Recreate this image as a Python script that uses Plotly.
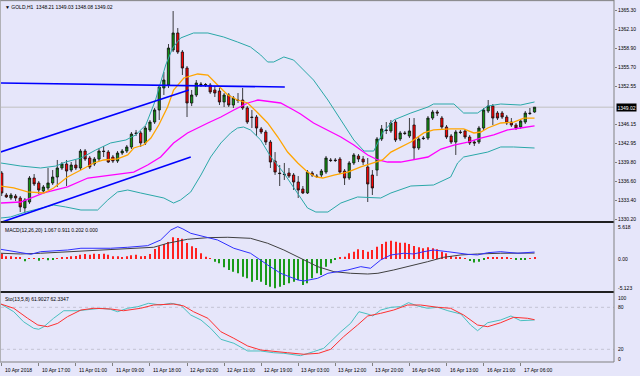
import plotly.graph_objects as go

# ---------------- data ----------------
bars = list(range(116))
opens = [1337.99,1334.30,1333.80,1334.13,1333.80,1332.13,1333.13,1337.15,1336.32,1334.97,
         1335.48,1336.32,1337.32,1338.83,1339.50,1338.49,1339.33,1338.83,1341.67,1340.50,
         1339.50,1340.33,1341.67,1341.50,1340.67,1340.00,1341.34,1341.67,1342.35,1344.70,
         1344.70,1343.02,1345.20,1346.53,1348.55,1352.24,1352.74,1358.60,1361.45,1358.26,
         1355.58,1349.72,1351.06,1352.90,1352.74,1352.74,1351.90,1351.73,1349.89,1351.06,
         1349.38,1350.22,1350.22,1348.88,1347.37,1347.37,1345.37,1344.86,1343.18,1340.00,
         1337.99,1337.82,1337.99,1337.65,1336.48,1335.31,1334.64,1337.99,1337.48,1337.65,
         1338.15,1340.17,1340.17,1340.33,1338.32,1337.15,1339.67,1340.84,1340.33,1339.00,
         1337.65,1338.49,1343.69,1345.20,1345.03,1346.53,1343.69,1344.70,1344.19,1346.03,
         1342.18,1343.85,1343.85,1347.20,1348.21,1347.20,1345.70,1344.19,1343.18,1344.86,
         1345.03,1344.02,1343.18,1343.18,1345.53,1348.38,1349.21,1348.04,1348.04,1347.37,
         1346.53,1346.03,1345.70,1346.53,1348.04,1348.21]
highs = [1338.32,1334.64,1334.64,1334.47,1334.13,1333.80,1337.48,1337.82,1336.65,1335.98,
         1338.83,1338.49,1340.17,1339.83,1340.17,1339.83,1340.17,1342.01,1342.01,1340.84,
         1340.67,1342.18,1342.51,1341.84,1341.01,1341.67,1342.01,1342.68,1344.86,1345.20,
         1345.03,1345.87,1346.87,1348.88,1352.74,1354.91,1359.60,1365.13,1362.28,1358.60,
         1355.92,1351.90,1353.57,1353.23,1353.07,1353.07,1352.57,1352.24,1351.39,1351.39,
         1350.89,1351.39,1352.24,1349.21,1348.55,1347.71,1345.70,1345.20,1343.52,1341.50,
         1339.33,1339.67,1338.83,1337.99,1337.48,1335.81,1338.49,1338.32,1337.82,1338.66,
         1340.84,1340.50,1340.50,1340.67,1338.66,1340.00,1341.34,1341.17,1340.84,1340.50,
         1338.49,1344.02,1346.03,1346.53,1346.87,1346.87,1345.03,1345.03,1347.20,1347.20,
         1344.02,1344.19,1347.54,1348.55,1348.55,1347.54,1346.03,1344.52,1345.20,1345.20,
         1345.37,1344.36,1343.52,1345.87,1348.88,1350.22,1349.55,1348.38,1348.38,1347.71,
         1347.20,1346.37,1347.04,1348.38,1348.88,1349.03]
lows = [1334.13,1333.80,1333.47,1333.30,1331.45,1331.29,1332.80,1335.81,1334.47,1334.64,
        1335.14,1335.98,1335.65,1338.49,1335.81,1338.15,1338.49,1338.49,1340.00,1338.66,
        1339.16,1340.00,1340.67,1339.67,1339.67,1339.67,1341.01,1341.34,1342.01,1344.19,
        1342.35,1342.68,1344.86,1346.20,1346.87,1351.06,1352.24,1358.26,1357.93,1354.41,
        1347.37,1349.21,1350.72,1352.40,1352.40,1351.23,1350.72,1349.38,1349.05,1349.05,
        1348.88,1349.72,1348.55,1346.20,1345.53,1344.19,1344.52,1342.68,1338.83,1337.66,
        1335.81,1336.82,1337.15,1335.14,1333.80,1334.47,1334.47,1337.32,1337.15,1337.32,
        1337.82,1339.83,1339.83,1337.82,1335.98,1336.82,1339.33,1339.83,1339.33,1333.13,
        1334.30,1337.48,1343.35,1344.52,1344.70,1343.18,1343.35,1344.36,1343.85,1340.17,
        1341.84,1343.52,1343.52,1346.87,1347.54,1345.37,1343.69,1342.85,1341.01,1344.52,
        1343.69,1342.68,1342.51,1342.85,1345.20,1348.04,1346.03,1346.87,1347.04,1346.03,
        1345.70,1345.20,1345.37,1346.20,1347.71,1348.08]
closes = [1334.64,1333.97,1334.30,1333.80,1332.30,1333.47,1337.15,1336.15,1335.14,1335.65,
          1336.32,1337.32,1338.83,1339.50,1338.32,1339.33,1338.83,1341.67,1340.33,1339.00,
          1340.33,1341.67,1341.59,1339.83,1340.00,1341.34,1341.67,1342.35,1344.52,1344.61,
          1343.02,1345.53,1346.53,1348.55,1352.40,1353.57,1358.93,1361.45,1358.26,1355.58,
          1349.72,1351.06,1353.07,1352.82,1352.82,1351.56,1351.39,1349.89,1351.06,1349.38,
          1350.56,1350.14,1348.88,1346.53,1347.29,1345.53,1344.86,1343.18,1339.83,1338.15,
          1337.90,1337.74,1337.48,1336.48,1335.14,1334.64,1338.15,1337.65,1337.40,1338.32,
          1340.50,1340.08,1340.08,1338.15,1337.15,1339.67,1341.01,1340.33,1339.83,1336.15,
          1335.48,1343.69,1345.37,1345.12,1346.37,1343.52,1344.70,1344.61,1345.03,1342.18,
          1343.69,1343.77,1347.20,1348.21,1348.04,1345.70,1344.02,1343.18,1344.86,1344.78,
          1344.02,1343.02,1343.02,1345.53,1348.55,1349.21,1347.20,1347.20,1347.37,1346.37,
          1346.03,1345.53,1346.70,1348.04,1347.96,1349.02]

bb_up_x = [-0.2,4.1,8.4,11.7,13.8,17.1,20.3,23.5,26.8,28.9,31.1,33.2,35.4,36.9,38.6,41.4,44.5,47.9,
           50.9,53.7,55.9,57.4,58.7,60.9,63.0,65.2,67.3,70.4,73.2,76.0,78.2,80.3,82.2,84.6,88.3,
           92.0,93.2,97.6,99.7,102.7,104.9,107.7,112.0,115.0]
bb_up_y = [1339.67,1339.16,1338.83,1339.16,1339.83,1340.50,1341.84,1343.02,1343.52,1344.36,1346.03,
           1350.22,1356.09,1358.93,1360.61,1361.45,1361.45,1360.78,1359.94,1359.10,1357.76,1356.59,
           1356.59,1357.43,1356.92,1355.25,1353.57,1350.22,1346.87,1343.52,1341.67,1341.67,1344.70,
           1346.87,1348.04,1349.05,1349.55,1349.55,1348.04,1348.04,1349.21,1349.55,1349.38,1349.89]
bb_lo_x = [-0.2,1.9,5.2,9.1,11.2,13.8,17.1,20.7,22.9,25.0,27.2,30.0,32.2,35.0,37.1,38.6,40.8,43.0,
           45.1,47.3,49.4,50.9,52.2,53.7,55.9,58.1,60.9,63.9,66.0,67.8,70.4,73.2,76.8,81.8,84.0,
           88.3,93.2,96.9,98.4,99.7,104.9,107.7,110.5,115.0]
bb_lo_y = [1330.45,1330.62,1331.45,1332.30,1332.63,1332.30,1331.79,1331.79,1333.47,1334.81,1335.14,
           1334.64,1334.30,1333.80,1332.96,1333.47,1334.81,1337.65,1340.67,1343.02,1344.70,1345.53,
           1345.70,1345.20,1343.52,1340.67,1337.99,1334.64,1332.13,1331.45,1331.45,1332.96,1333.97,
           1333.80,1334.64,1335.81,1335.98,1337.32,1339.67,1340.67,1341.50,1342.35,1342.35,1342.18]
ma_fast_x = [-0.2,2.6,5.6,9.1,11.2,14.2,17.1,19.9,22.0,25.0,27.2,28.5,30.6,32.2,33.9,35.8,37.1,39.3,
             42.3,44.5,46.6,48.8,50.9,53.1,55.3,57.4,59.6,61.7,63.9,66.0,67.8,69.3,71.7,74.7,77.5,
             80.3,82.2,84.0,86.1,88.3,91.1,93.2,96.9,99.7,101.9,103.4,104.9,107.7,110.5,112.7,115.0]
ma_fast_y = [1335.81,1335.48,1334.81,1334.64,1335.48,1337.32,1338.49,1339.67,1340.17,1340.34,1341.01,
             1342.18,1342.68,1343.85,1346.03,1349.05,1351.90,1353.91,1354.58,1354.41,1352.74,1351.06,
             1350.22,1349.72,1348.04,1346.37,1344.02,1341.50,1339.67,1338.15,1337.32,1337.15,1337.65,
             1338.15,1339.00,1339.67,1340.17,1341.50,1342.35,1343.18,1344.70,1345.20,1345.37,1345.37,
             1344.70,1344.86,1345.53,1346.37,1346.53,1347.20,1347.20]
ma_slow_x = [-0.2,4.1,9.1,14.2,18.6,24.2,28.5,31.5,34.3,37.1,40.1,44.5,47.3,50.1,53.1,55.3,57.4,60.2,
             63.0,64.5,67.3,70.4,73.2,76.0,79.0,81.2,83.3,86.1,88.9,92.0,94.8,97.6,100.6,103.4,106.2,
             109.2,112.0,115.0]
ma_slow_y = [1332.96,1333.13,1334.64,1335.65,1337.15,1337.65,1338.15,1339.33,1340.67,1343.02,1344.69,
             1346.37,1347.37,1348.55,1349.72,1350.22,1350.05,1349.72,1348.55,1347.88,1346.37,1345.20,
             1344.02,1342.68,1341.01,1340.17,1339.83,1339.83,1340.17,1340.67,1342.01,1342.68,1343.18,
             1343.85,1344.36,1345.20,1345.53,1345.87]

# hand-drawn trend lines: (bar, price) end points
trend_up_x, trend_up_y = [-0.2, 40.4], [1341.51, 1351.90]
trend_lo_x, trend_lo_y = [-0.2, 40.8], [1329.71, 1340.67]
trend_h_x, trend_h_y = [-0.2, 61.1], [1353.07, 1352.40]
last_price = 1349.02

macd_hist = [0.82,0.41,0.41,0.31,0.26,-0.36,0.15,0.10,-0.26,0.10,
             -0.21,-0.15,0.15,0.26,0.31,0.41,0.46,0.67,0.77,0.67,
             0.82,0.77,0.82,0.67,0.41,0.41,0.31,0.41,0.56,0.67,
             0.41,0.46,0.77,1.54,1.95,2.31,2.62,3.33,3.23,3.13,
             2.46,1.95,1.69,0.88,0.36,0.05,-0.41,-0.67,-1.28,-1.69,
             -1.95,-2.21,-2.72,-2.97,-3.49,-3.23,-3.49,-4.00,-4.26,-4.51,
             -4.26,-4.00,-3.74,-3.49,-3.23,-4.00,-3.74,-2.97,-2.21,-2.46,
             -1.18,-0.67,-0.15,0.21,0.36,0.87,1.13,1.49,1.38,1.13,
             1.38,1.90,2.31,2.67,2.82,2.67,2.51,2.51,2.31,2.00,
             1.79,1.64,1.79,1.64,1.49,1.13,0.87,0.46,0.36,0.21,
             0.10,-0.31,-0.56,-0.41,-0.15,0.21,0.21,0.21,0.21,0.26,
             0.05,-0.15,-0.10,-0.10,0.15,0.20]
macd_main_x = [-0.2,1.9,4.1,6.3,8.4,10.6,14.2,17.1,23.5,27.2,31.5,34.3,36.5,38.0,39.1,40.8,43.6,46.6,
               50.1,53.7,57.4,60.2,63.9,65.2,68.2,70.4,72.5,74.7,77.5,79.6,81.8,84.0,86.8,88.9,91.1,
               93.2,96.3,98.4,100.6,102.7,104.9,107.7,111.4,115.0]
macd_main_y = [1.49,1.23,0.92,0.72,1.12,1.23,1.38,1.65,1.65,1.80,2.05,2.92,4.46,4.97,4.62,3.95,3.43,2.92,
               1.65,0.88,-0.92,-2.20,-3.23,-3.38,-2.97,-2.20,-1.95,-1.69,-1.18,-1.43,-0.15,0.62,0.88,
               0.77,1.12,1.38,1.12,0.88,0.72,0.62,0.97,1.12,0.88,1.07]
macd_sig_x = [-0.2,4.1,8.4,14.2,18.6,22.9,28.5,32.8,35.8,40.1,44.5,48.8,53.7,57.4,60.9,64.5,68.2,71.7,
              75.3,79.0,81.2,84.6,88.3,91.9,95.4,99.1,102.7,107.7,115.0]
macd_sig_y = [0.88,0.77,0.88,1.12,1.23,1.38,1.65,1.80,2.42,3.03,3.28,3.34,3.18,2.42,1.38,0.11,-1.18,-1.95,
              -2.20,-2.31,-2.20,-1.69,-1.08,-0.42,0.26,0.62,0.77,0.88,0.91]

sto_main_x = [-0.2,2.6,4.7,6.9,8.0,9.1,11.2,13.4,16.4,18.6,21.4,23.5,25.0,27.2,29.4,31.7,34.3,36.5,38.6,
              40.8,43.0,45.1,47.3,50.1,53.1,55.9,58.7,60.9,64.5,67.3,69.5,71.0,73.2,75.3,77.1,79.0,80.1,
              81.8,84.0,86.1,87.8,89.8,91.9,94.1,96.3,99.1,101.2,102.7,104.9,107.7,109.9,112.0,115.0]
sto_main_y = [84.7,73.7,59.4,50.0,48.6,52.3,64.3,75.1,75.1,77.1,78.6,77.1,73.7,78.6,80.9,85.7,83.3,85.7,
              83.3,69.0,61.9,50.0,34.3,28.6,17.6,17.6,15.1,14.3,10.9,16.6,21.4,30.9,45.1,57.1,73.7,70.4,
              67.6,76.1,80.0,80.9,86.6,81.9,78.6,80.0,75.1,70.4,54.7,46.6,58.0,61.9,67.6,60.9,61.9]
sto_sig_x = [-0.2,2.6,5.6,7.8,9.9,12.1,14.2,17.1,19.9,23.5,26.3,30.0,32.8,37.1,39.3,41.4,44.5,47.3,50.1,
             53.1,55.9,58.7,61.7,65.2,68.4,71.0,73.8,76.8,79.0,81.8,84.6,87.6,90.4,94.1,96.9,99.7,102.7,
             104.9,107.7,110.5,113.5,115.0]
sto_sig_y = [84.7,78.6,64.3,54.7,52.3,57.1,66.6,76.1,78.6,77.6,75.1,78.6,83.3,84.7,81.9,73.7,64.3,45.1,
             35.7,24.7,19.0,17.6,15.1,12.9,14.3,20.0,38.0,54.7,67.6,71.4,76.1,83.3,83.3,80.0,78.6,69.0,
             54.7,52.3,58.0,65.7,64.3,62.3]

price_ticks = [1365.30, 1362.10, 1358.90, 1355.70, 1352.55, 1346.15, 1342.95,
               1339.80, 1336.60, 1333.40, 1330.20]
time_tick_bars = [0, 8, 16, 24, 32, 40, 48, 56, 64, 72, 80, 88, 96, 104, 112]
time_tick_labels = ["10 Apr 2018", "10 Apr 17:00", "11 Apr 01:00", "11 Apr 09:00",
                    "11 Apr 18:00", "12 Apr 02:00", "12 Apr 11:00", "12 Apr 19:00",
                    "13 Apr 03:00", "13 Apr 12:00", "13 Apr 20:00", "16 Apr 04:00",
                    "16 Apr 13:00", "16 Apr 21:00", "17 Apr 06:00"]
header_text = "GOLD,H1  1348.21 1349.03 1348.08 1349.02"
macd_text = "MACD(12,26,20) 1.067 0.911 0.202 0.000"
sto_text = "Sto(13,5,8) 61.9027 62.3347"

# ---------------- figure ----------------
BG = "#E6E6FA"
FONT = "Liberation Sans"
FS = 5

fig = go.Figure()

fig.add_trace(go.Scatter(x=bb_up_x, y=bb_up_y, mode="lines", line=dict(color="#2AA8A8", width=1),
                         xaxis="x", yaxis="y", hoverinfo="skip"))
fig.add_trace(go.Scatter(x=bb_lo_x, y=bb_lo_y, mode="lines", line=dict(color="#2AA8A8", width=1),
                         xaxis="x", yaxis="y", hoverinfo="skip"))
fig.add_trace(go.Scatter(x=ma_slow_x, y=ma_slow_y, mode="lines", line=dict(color="#FF00FF", width=1.3),
                         xaxis="x", yaxis="y", hoverinfo="skip"))
fig.add_trace(go.Scatter(x=ma_fast_x, y=ma_fast_y, mode="lines", line=dict(color="#FFA500", width=1.3),
                         xaxis="x", yaxis="y", hoverinfo="skip"))
for tx, ty in [(trend_up_x, trend_up_y), (trend_lo_x, trend_lo_y), (trend_h_x, trend_h_y)]:
    fig.add_trace(go.Scatter(x=tx, y=ty, mode="lines", line=dict(color="#0000FF", width=1.6),
                             xaxis="x", yaxis="y", hoverinfo="skip"))

fig.add_trace(go.Candlestick(
    x=bars, open=opens, high=highs, low=lows, close=closes,
    increasing=dict(line=dict(color="#101010", width=0.8), fillcolor="#139113"),
    decreasing=dict(line=dict(color="#101010", width=0.8), fillcolor="#FF0000"),
    whiskerwidth=0, xaxis="x", yaxis="y", hoverinfo="skip"))

hist_colors = ["#FF2020" if v >= 0 else "#1A9A1A" for v in macd_hist]
fig.add_trace(go.Bar(x=bars, y=macd_hist, width=0.22, marker=dict(color=hist_colors, line=dict(width=0)),
                     xaxis="x", yaxis="y2", hoverinfo="skip"))
fig.add_trace(go.Scatter(x=macd_sig_x, y=macd_sig_y, mode="lines", line=dict(color="#404040", width=1),
                         xaxis="x", yaxis="y2", hoverinfo="skip"))
fig.add_trace(go.Scatter(x=macd_main_x, y=macd_main_y, mode="lines", line=dict(color="#3030FF", width=1),
                         xaxis="x", yaxis="y2", hoverinfo="skip"))

fig.add_trace(go.Scatter(x=sto_main_x, y=sto_main_y, mode="lines", line=dict(color="#48C0C0", width=1),
                         xaxis="x", yaxis="y3", hoverinfo="skip"))
fig.add_trace(go.Scatter(x=sto_sig_x, y=sto_sig_y, mode="lines", line=dict(color="#FF3030", width=1),
                         xaxis="x", yaxis="y3", hoverinfo="skip"))

H_PLOT = 361.0
def pfrac(py):
    return (362.0 - py) / H_PLOT

main_dom = [pfrac(222), 1.0]
macd_dom = [pfrac(292), pfrac(222)]
sto_dom = [0.0, pfrac(292)]

axis_common = dict(showgrid=False, zeroline=False, showline=False, fixedrange=True)

fig.update_layout(
    width=640, height=376,
    margin=dict(l=1, r=26, t=1, b=14),
    paper_bgcolor=BG, plot_bgcolor=BG,
    showlegend=False, boxgap=0.3,
    font=dict(family=FONT, size=FS, color="black"),
    xaxis=dict(range=[-0.15, 132.15], anchor="y3", domain=[0, 1], rangeslider=dict(visible=False),
               tickvals=time_tick_bars, showticklabels=False, ticks="outside", ticklen=3,
               tickcolor="#808080", **axis_common),
    yaxis=dict(domain=main_dom, range=[1329.78, 1366.81], anchor="x", side="right",
               tickvals=price_ticks, ticktext=["%.2f" % v for v in price_ticks],
               ticks="outside", ticklen=2, tickcolor="#808080",
               tickfont=dict(family=FONT, size=FS, color="black"), **axis_common),
    yaxis2=dict(domain=macd_dom, range=[-5.08, 5.69], anchor="x", side="right",
                showticklabels=False, ticks="", **axis_common),
    yaxis3=dict(domain=sto_dom, range=[1.86, 101.86], anchor="x", side="right",
                showticklabels=False, ticks="", **axis_common),
)

shapes = []
# current price line
shapes.append(dict(type="line", xref="paper", yref="y", x0=0, x1=1, y0=last_price, y1=last_price,
                   line=dict(color="#C0C0C0", width=1), layer="below"))
# stochastic levels
for lv in (80, 20):
    shapes.append(dict(type="line", xref="paper", yref="y3", x0=0, x1=1, y0=lv, y1=lv,
                       line=dict(color="#C4C4D4", width=1, dash="dot"), layer="below"))
# separators
for py in (222, 292):
    shapes.append(dict(type="line", xref="paper", yref="paper", x0=-0.002, x1=1, y0=pfrac(py), y1=pfrac(py),
                       line=dict(color="#202020", width=2.2)))
# frame
shapes.append(dict(type="line", xref="paper", yref="paper", x0=1, x1=1, y0=0, y1=1.003,
                   line=dict(color="#808080", width=1)))
shapes.append(dict(type="line", xref="paper", yref="paper", x0=-0.002, x1=1, y0=0, y1=0,
                   line=dict(color="#808080", width=1)))
shapes.append(dict(type="line", xref="paper", yref="paper", x0=-0.002, x1=1, y0=1.001, y1=1.001,
                   line=dict(color="#808080", width=1)))
shapes.append(dict(type="line", xref="paper", yref="paper", x0=-0.0012, x1=-0.0012, y0=0, y1=1.003,
                   line=dict(color="#A0A0A0", width=1)))
fig.update_layout(shapes=shapes)

ann = []
ann.append(dict(xref="paper", yref="paper", x=0.004, y=0.996, xanchor="left", yanchor="top",
                text="▼ " + header_text, showarrow=False, font=dict(size=FS, color="black")))
ann.append(dict(xref="paper", yref="paper", x=0.004, y=pfrac(224.5), xanchor="left", yanchor="top",
                text=macd_text, showarrow=False, font=dict(size=FS, color="black")))
ann.append(dict(xref="paper", yref="paper", x=0.004, y=pfrac(294), xanchor="left", yanchor="top",
                text=sto_text, showarrow=False, font=dict(size=FS, color="black")))
# last price box
ann.append(dict(xref="paper", yref="y", x=1, y=last_price, xanchor="left", yanchor="middle", xshift=2,
                text="%.2f" % last_price, showarrow=False, bgcolor="black", borderpad=0.5,
                font=dict(size=FS, color="white")))
# MACD / stochastic scale labels
for txt, val, ax in [("5.618", 4.92, "y2"), ("0.00", 0.0, "y2"), ("-5.123", -4.46, "y2"),
                     ("100", 94.0, "y3"), ("80", 80.0, "y3"), ("20", 20.0, "y3"), ("0", 6.1, "y3")]:
    ann.append(dict(xref="paper", yref=ax, x=1, y=val, xanchor="left", yanchor="middle", xshift=2,
                    text=txt, showarrow=False, font=dict(size=FS, color="black")))
# time labels
for b, lab in zip(time_tick_bars, time_tick_labels):
    ann.append(dict(xref="x", yref="paper", x=b, y=0, xanchor="left", yanchor="top", xshift=1, yshift=-3,
                    text=lab, showarrow=False, font=dict(size=FS, color="black")))
fig.update_layout(annotations=ann)

fig.write_html("out.html", config={"displayModeBar": False},
               post_script="document.body.style.margin='0';document.body.style.overflow='hidden';")
